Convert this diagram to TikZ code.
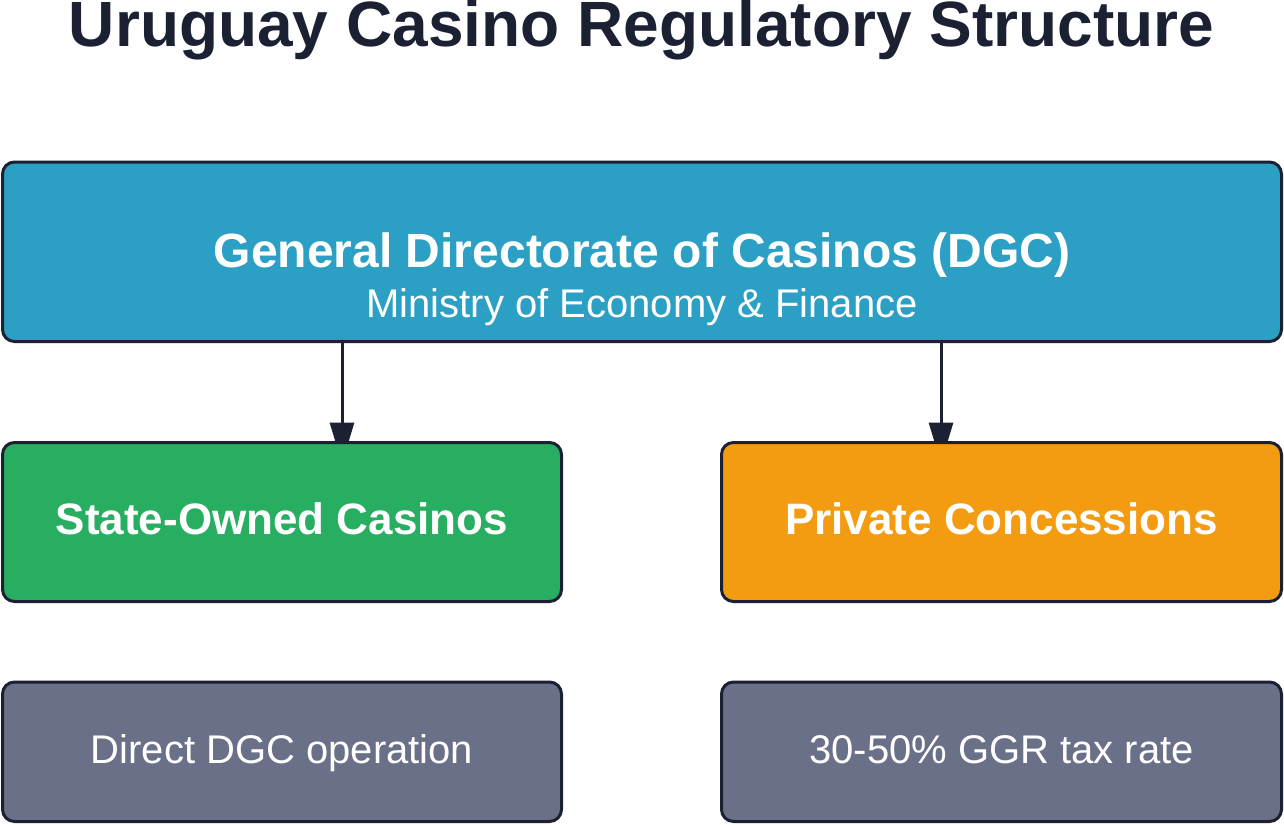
\documentclass[tikz,border=0pt]{standalone}
\usepackage{fontspec}
\setmainfont{Liberation Sans}
\usetikzlibrary{arrows.meta,backgrounds,calc}
\definecolor{ink}{HTML}{1C2033}
\definecolor{dgcblue}{HTML}{2B9FC4}
\definecolor{stategreen}{HTML}{28AE60}
\definecolor{privorange}{HTML}{F39C12}
\definecolor{notegray}{HTML}{6B7089}
\tikzset{
  boxbase/.style={draw=ink, line width=3pt, rounded corners=12pt, inner sep=0pt, outer sep=0pt, text=white},
  headbox/.style={boxbase, text height=24pt, text depth=0pt, font=\bfseries\fontsize{44}{50}\selectfont},
  notebox/.style={boxbase, fill=notegray, text height=22.5pt, text depth=0pt, font=\fontsize{40}{46}\selectfont},
  arr/.style={draw=ink, line width=3pt, -{Triangle[width=24pt,length=41pt]}},
  lbl/.style={inner sep=0pt, outer sep=0pt, anchor=base}
}
\begin{document}
\begin{tikzpicture}[x=1pt,y=-1pt]
\useasboundingbox (0,0) rectangle (1284,824);
\node[lbl, text=ink, font=\bfseries\fontsize{64}{70}\selectfont] (title) at (641.5,47) {Uruguay Casino Regulatory Structure};
\node[boxbase, fill=dgcblue, minimum width=1279pt, minimum height=179.5pt] (dgc) at (642,251.75) {};
\node[lbl, text=white, font=\bfseries\fontsize{48}{54}\selectfont] (dgcname) at (642,267) {General Directorate of Casinos (DGC)};
\node[lbl, text=white, font=\fontsize{40}{46}\selectfont] (dgcsub) at (642,317) {Ministry of Economy \& Finance};
\node[headbox, fill=stategreen, minimum width=559pt, minimum height=159pt] (state) at (282,522) {State-Owned Casinos};
\node[headbox, fill=privorange, minimum width=560pt, minimum height=159pt] (private) at (1001.5,522) {Private Concessions};
\node[notebox, minimum width=559pt, minimum height=139.5pt] (statenote) at (282,751.75) {Direct DGC operation};
\node[notebox, minimum width=560pt, minimum height=139.5pt] (privnote) at (1001.5,751.75) {30-50\% GGR tax rate};
\coordinate (ax1) at (342,0);
\coordinate (ax2) at (941,0);
\begin{scope}[on background layer]
\draw[arr] (dgc.south -| ax1) -- ($(state.north -| ax1)+(0,21)$);
\draw[arr] (dgc.south -| ax2) -- ($(private.north -| ax2)+(0,21)$);
\end{scope}
\end{tikzpicture}
\end{document}
